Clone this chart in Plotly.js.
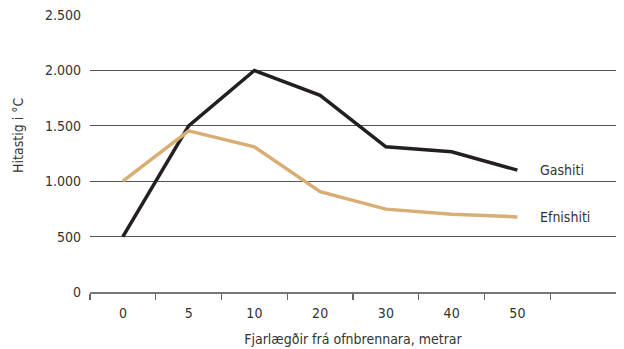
<!DOCTYPE html>
<html><head><meta charset="utf-8">
<script src="https://cdn.plot.ly/plotly-3.0.1.min.js"></script>
<style>html,body{margin:0;padding:0;background:#fff}#c{width:624px;height:349px}</style>
</head><body><div id="c"></div>
<script>
const categories = ['0','5','10','20','30','40','50'];
const gashiti = [500, 1500, 2000, 1775, 1310, 1265, 1100];
const efnishiti = [1000, 1455, 1310, 905, 748, 702, 678];
const seriesNames = ['Gashiti', 'Efnishiti'];
const yTicks = [0, 500, 1000, 1500, 2000, 2500];
const FONT = '"Liberation Sans Narrow", "DejaVu Sans Condensed", "Liberation Sans", sans-serif';

const traces = [
  {x: categories, y: gashiti, name: seriesNames[0], type: 'scatter', mode: 'lines',
   line: {color: '#231f20', width: 3.5}},
  {x: categories, y: efnishiti, name: seriesNames[1], type: 'scatter', mode: 'lines',
   line: {color: '#d9ae74', width: 3.5}}
];
const layout = {
  width: 624, height: 349,
  margin: {l: 90, r: 8, t: 15, b: 57},
  paper_bgcolor: '#fff', plot_bgcolor: '#fff',
  showlegend: false,
  separators: ',.',
  font: {family: FONT, size: 14, color: '#333'},
  xaxis: {
    type: 'category', categoryorder: 'array', categoryarray: categories,
    range: [-0.5, 7.5], tickson: 'boundaries', ticks: 'outside', ticklen: 6, tickcolor: '#666', tickwidth: 1.2,
    showline: true, linecolor: '#777', linewidth: 1.5, showgrid: false, zeroline: false,
    ticklabelstandoff: 8,
    tickfont: {family: FONT, size: 14, color: '#333'},
    title: {text: 'Fjarlægðir frá ofnbrennara, metrar', font: {family: FONT, size: 14, color: '#333'}, standoff: 14}
  },
  yaxis: {
    range: [0, 2500], tickvals: yTicks, tickformat: ',d',
    showgrid: true, gridcolor: '#555', gridwidth: 1, zeroline: false, showline: false, ticks: '',
    ticklabelstandoff: 8,
    tickfont: {family: FONT, size: 14, color: '#333'}
  },
  annotations: [
    {xref: 'paper', yref: 'paper', x: -0.137, y: 0.567, xanchor: 'center', yanchor: 'middle',
     text: 'Hitastig i °C', textangle: -90, showarrow: false,
     font: {family: FONT, size: 14, color: '#333'}},
    {xref: 'x', yref: 'y', x: 6, y: gashiti[6], text: seriesNames[0], showarrow: false, xanchor: 'left', xshift: 21,
     font: {family: FONT, size: 14, color: '#333'}},
    {xref: 'x', yref: 'y', x: 6, y: efnishiti[6], text: seriesNames[1], showarrow: false, xanchor: 'left', xshift: 21,
     font: {family: FONT, size: 14, color: '#333'}}
  ]
};
Plotly.newPlot('c', traces, layout, {displayModeBar: false, staticPlot: true});
</script>
</body></html>
